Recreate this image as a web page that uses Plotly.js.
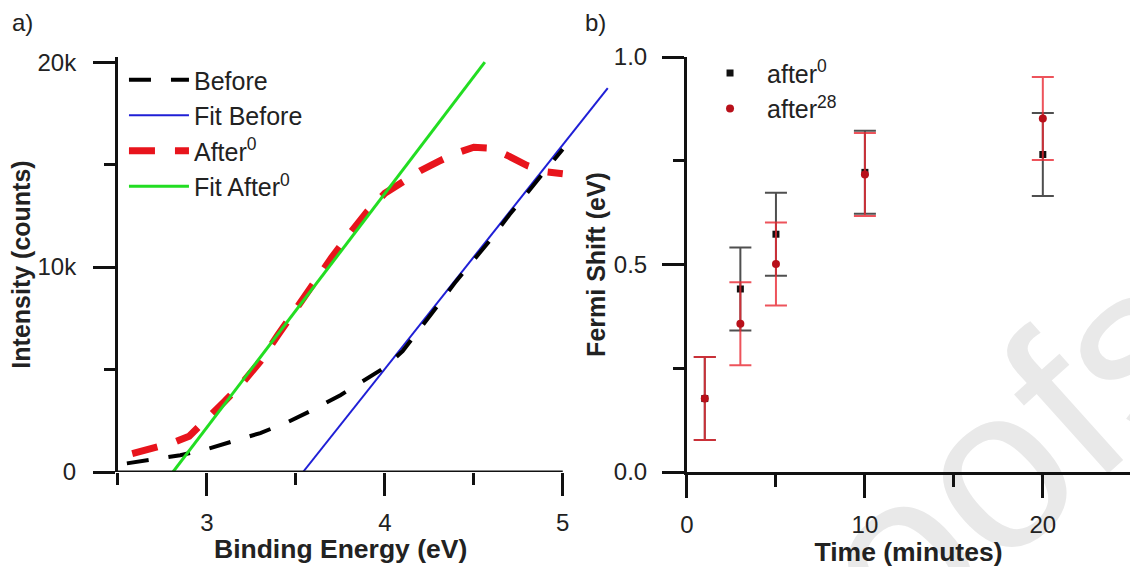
<!DOCTYPE html>
<html>
<head>
<meta charset="utf-8">
<script src="https://cdn.plot.ly/plotly-3.0.1.min.js"></script>
<style>
  html, body { margin: 0; padding: 0; background: #ffffff; width: 1130px; height: 567px; overflow: hidden; }
  #wm { position: absolute; left: 0; top: 0; z-index: 0; }
  #chart { position: absolute; left: 0; top: 0; width: 1130px; height: 567px; z-index: 1; }
</style>
</head>
<body>
<svg id="wm" width="1130" height="567">
  <text x="732" y="812" transform="rotate(-42 732 812)" font-family="Liberation Sans, Arial, sans-serif" font-size="230" fill="#e9e9e9">Proofs</text>
</svg>
<div id="chart"></div>
<script>
// ---- Panel a) : Intensity vs Binding Energy ----
const beforeEnergy = [2.55, 2.70, 2.85, 3.00, 3.15, 3.30, 3.45, 3.60, 3.75, 3.90, 4.00, 4.10, 4.20, 4.30, 4.40, 4.50, 4.60, 4.70, 4.80, 4.90, 5.00];
const beforeCounts = [420, 600, 820, 1120, 1500, 1900, 2420, 3050, 3750, 4550, 5100, 5900, 7000, 8150, 9300, 10350, 11400, 12550, 13600, 14650, 15750];

const afterEnergy = [2.58, 2.70, 2.80, 2.90, 3.00, 3.10, 3.20, 3.30, 3.40, 3.50, 3.60, 3.70, 3.80, 3.90, 4.00, 4.10, 4.20, 4.30, 4.40, 4.50, 4.60, 4.70, 4.80, 4.90, 5.00];
const afterCounts = [900, 1150, 1400, 1750, 2550, 3450, 4350, 5400, 6700, 8000, 9200, 10450, 11600, 12700, 13600, 14200, 14700, 15150, 15550, 15850, 15800, 15400, 14950, 14650, 14550];

const fitBeforeEnergy = [3.54, 5.253];
const fitBeforeCounts = [0, 18730];
const fitAfterEnergy = [2.809, 4.562];
const fitAfterCounts = [0, 20000];

const energyTicks = [3, 4, 5];
const energyMinorTicks = [2.5, 3.5, 4.5];
const countTicks = [0, 10000, 20000];
const countTickText = ['0', '10k', '20k'];
const countMinorTicks = [5000, 15000];

// ---- Panel b) : Fermi shift vs time ----
const timeMinutes = [1, 3, 5, 10, 20];
const shiftAfter0 = [0.177, 0.441, 0.573, 0.722, 0.765];
const errAfter0 = [0.10, 0.10, 0.10, 0.10, 0.10];
const shiftAfter28 = [0.177, 0.357, 0.501, 0.717, 0.852];
const errAfter28 = [0.10, 0.10, 0.10, 0.10, 0.10];

const timeTicks = [0, 10, 20];
const timeMinorTicks = [5, 15];
const shiftTicks = [0, 0.5, 1.0];
const shiftTickText = ['0.0', '0.5', '1.0'];
const shiftMinorTicks = [0.25, 0.75];

const FONT = 'Liberation Sans, Arial, sans-serif';
const TXT = '#222222';
const AX = '#111111';

const traces = [
  { x: fitBeforeEnergy, y: fitBeforeCounts, name: 'Fit Before', mode: 'lines', xaxis: 'x', yaxis: 'y',
    line: { color: '#1f1fd6', width: 2 }, legend: 'legend', legendrank: 2 },
  { x: beforeEnergy, y: beforeCounts, name: 'Before', mode: 'lines', xaxis: 'x', yaxis: 'y',
    line: { color: '#000000', width: 4, dash: '22px,20px' }, legend: 'legend', legendrank: 1 },
  { x: afterEnergy, y: afterCounts, name: 'After<sup>0</sup>', mode: 'lines', xaxis: 'x', yaxis: 'y',
    line: { color: '#e8141c', width: 7, dash: '26px,20px' }, legend: 'legend', legendrank: 3 },
  { x: fitAfterEnergy, y: fitAfterCounts, name: 'Fit After<sup>0</sup>', mode: 'lines', xaxis: 'x', yaxis: 'y',
    line: { color: '#22dd22', width: 3 }, legend: 'legend', legendrank: 4 },
  { x: timeMinutes, y: shiftAfter0, name: 'after<sup>0</sup>', mode: 'markers', xaxis: 'x2', yaxis: 'y2',
    marker: { symbol: 'square', size: 7, color: '#111111' },
    error_y: { type: 'data', array: errAfter0, visible: true, color: 'rgba(20,20,20,0.75)', thickness: 2, width: 11 },
    legend: 'legend2', legendrank: 1 },
  { x: timeMinutes, y: shiftAfter28, name: 'after<sup>28</sup>', mode: 'markers', xaxis: 'x2', yaxis: 'y2',
    marker: { symbol: 'circle', size: 8, color: '#b8101a' },
    error_y: { type: 'data', array: errAfter28, visible: true, color: 'rgba(232,40,50,0.8)', thickness: 2, width: 11 },
    legend: 'legend2', legendrank: 2 }
];

const tickFont = { family: FONT, size: 24, color: TXT };
const titleFont = { family: FONT, size: 25, color: TXT, weight: 'bold' };
const xTitleFont = { family: FONT, size: 26.5, color: TXT, weight: 'bold' };

const layout = {
  width: 1130, height: 567,
  margin: { l: 0, r: 0, t: 57, b: 95, pad: 0 },
  paper_bgcolor: 'rgba(0,0,0,0)',
  plot_bgcolor: 'rgba(0,0,0,0)',
  font: { family: FONT, color: TXT },
  showlegend: true,
  xaxis: {
    domain: [0.10442, 0.53894], range: [2.5, 5.26], anchor: 'y',
    showgrid: false, zeroline: false, showline: false,
    tickvals: energyTicks, ticks: 'outside', ticklen: 23, tickwidth: 3, tickcolor: AX,
    minor: { tickvals: energyMinorTicks, ticks: 'outside', ticklen: 12, tickwidth: 3, tickcolor: AX, showgrid: false },
    tickfont: tickFont, ticklabelstandoff: 6
  },
  yaxis: {
    domain: [0, 1], range: [0, 20250], anchor: 'x',
    showgrid: false, zeroline: false, showline: true, linewidth: 3, linecolor: AX,
    tickvals: countTicks, ticktext: countTickText, ticks: 'outside', ticklen: 22, tickwidth: 3, tickcolor: AX,
    minor: { tickvals: countMinorTicks, ticks: 'outside', ticklen: 11, tickwidth: 3, tickcolor: AX, showgrid: false },
    tickfont: tickFont, ticklabelstandoff: 12,
    title: { text: 'Intensity (counts)', font: titleFont, standoff: 0 }
  },
  xaxis2: {
    domain: [0.60796, 1], range: [0, 24.9], anchor: 'y2',
    showgrid: false, zeroline: false, showline: true, linewidth: 3, linecolor: AX,
    tickvals: timeTicks, ticks: 'outside', ticklen: 23, tickwidth: 3, tickcolor: AX,
    minor: { tickvals: timeMinorTicks, ticks: 'outside', ticklen: 12, tickwidth: 3, tickcolor: AX, showgrid: false },
    tickfont: tickFont, ticklabelstandoff: 6,
    title: { text: 'Time (minutes)', font: xTitleFont, standoff: 2 }
  },
  yaxis2: {
    domain: [0, 1], range: [0, 1.0], anchor: 'x2',
    showgrid: false, zeroline: false, showline: true, linewidth: 3, linecolor: AX,
    tickvals: shiftTicks, ticktext: shiftTickText, ticks: 'outside', ticklen: 22, tickwidth: 3, tickcolor: AX,
    minor: { tickvals: shiftMinorTicks, ticks: 'outside', ticklen: 11, tickwidth: 3, tickcolor: AX, showgrid: false },
    tickfont: tickFont, ticklabelstandoff: 10,
    title: { text: 'Fermi Shift (eV)', font: titleFont, standoff: 2 }
  },
  legend: {
    x: 0.1097, y: 1.0, xanchor: 'left', yanchor: 'top',
    bgcolor: 'rgba(0,0,0,0)', borderwidth: 0, itemwidth: 60, tracegroupgap: 0,
    font: { family: FONT, size: 25, color: TXT }, traceorder: 'normal'
  },
  legend2: {
    x: 0.6133, y: 1.016, xanchor: 'left', yanchor: 'top',
    bgcolor: 'rgba(0,0,0,0)', borderwidth: 0, itemwidth: 64, tracegroupgap: 0,
    font: { family: FONT, size: 25, color: TXT }, traceorder: 'normal'
  },
  shapes: [
    { type: 'line', xref: 'x', yref: 'y', x0: 2.5, x1: 5, y0: 0, y1: 0,
      line: { color: AX, width: 3 }, layer: 'above' }
  ],
  annotations: [
    { text: '<b>Binding Energy (eV)</b>', xref: 'paper', yref: 'paper', x: 340 / 1130, y: (472 - 549) / 415,
      xanchor: 'center', yanchor: 'middle', showarrow: false, font: xTitleFont },
    { text: 'a)', xref: 'paper', yref: 'paper', x: 10 / 1130, y: (472 - 22) / 415,
      xanchor: 'left', yanchor: 'middle', showarrow: false, font: { family: FONT, size: 24, color: TXT } },
    { text: 'b)', xref: 'paper', yref: 'paper', x: 583 / 1130, y: (472 - 22) / 415,
      xanchor: 'left', yanchor: 'middle', showarrow: false, font: { family: FONT, size: 24, color: TXT } }
  ]
};

Plotly.newPlot('chart', traces, layout, { staticPlot: true, displayModeBar: false });
</script>
</body>
</html>
